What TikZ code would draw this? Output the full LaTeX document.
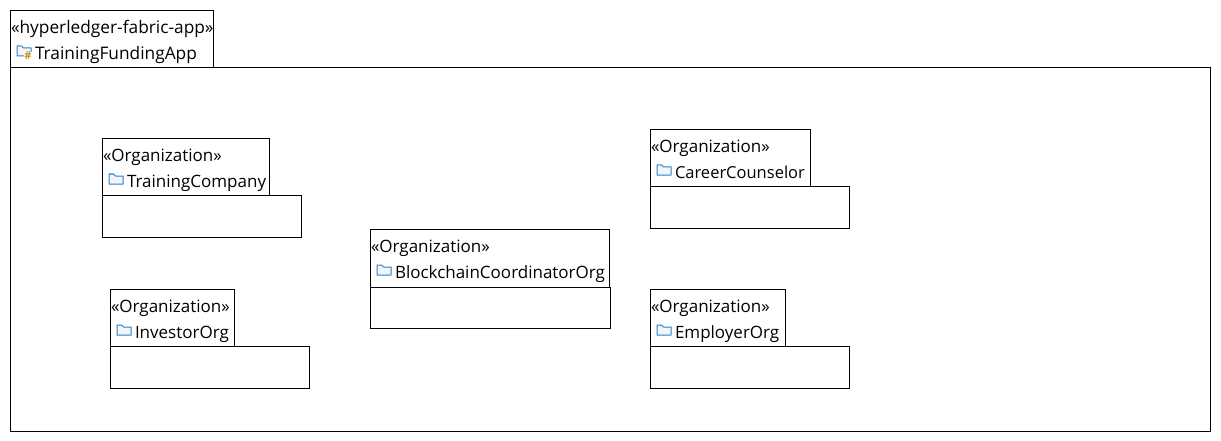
\documentclass[tikz,border=0pt]{standalone}
\usepackage{fontspec}
\setmainfont{Open Sans}
\definecolor{folderblue}{HTML}{2F7FC1}
\definecolor{folderfill}{HTML}{F0F6FC}
\definecolor{hashgold}{HTML}{C8901A}
\newcommand{\appsize}{\fontsize{17.3}{20}\selectfont}
\newcommand{\ccsize}{\fontsize{16.5}{20}\selectfont}
\tikzset{
  pkgbox/.style={draw=black,line width=1pt,fill=white,inner sep=0pt,outer sep=0pt,anchor=north west},
  pkgtext/.style={inner sep=0pt,outer sep=0pt,anchor=base west,text=black,font=\fontsize{17}{20}\selectfont},
  foldericon/.style={draw=folderblue,line width=1pt,fill=folderfill,line join=round},
}
% #1 id, #2 x, #3 y top, #4 tab width, #5 tab height, #6 body width, #7 body height, #8 stereotype, #9 name
\newcommand{\pkgshape}[9]{%
  \node[pkgbox,minimum width=#4pt,minimum height=#5pt] (#1tab) at (#2,#3) {};
  \node[pkgbox,minimum width=#6pt,minimum height=#7pt] (#1body) at (#1tab.south west) {};
  \node[pkgtext] (#1st) at (#2+0.5,#3+23) {#8};
  \node[pkgtext] (#1nm) at (#2+24.5,#3+49) {#9};
  \draw[foldericon] (#2+6.5,#3+45.5) -- (#2+6.5,#3+35.5) -- (#2+11,#3+35.5) -- (#2+13,#3+37.5) -- (#2+20.5,#3+37.5) -- (#2+20.5,#3+45.5) -- cycle;
}
\begin{document}
\begin{tikzpicture}[x=1pt,y=-1pt]
\useasboundingbox (0,0) rectangle (1221,441);
\fill[white] (0,0) rectangle (1221,441);
\pkgshape{app}{10.5}{10.5}{203}{57}{1200}{363.5}{\appsize «hyperledger-fabric-app»}{\appsize TrainingFundingApp}
\node[inner sep=0pt,fill=white,text=hashgold,font=\bfseries\fontsize{11}{11}\selectfont] (apphash) at (28,55.5) {\#};
\pkgshape{tc}{102.5}{138.5}{167}{57}{199}{42}{«Organization»}{TrainingCompany}
\pkgshape{cc}{650.5}{129.5}{160}{57}{199}{42}{«Organization»}{\ccsize CareerCounselor}
\pkgshape{bc}{370.5}{229.5}{239}{57.5}{240}{41.5}{«Organization»}{BlockchainCoordinatorOrg}
\pkgshape{io}{110.5}{289.5}{124}{57}{199}{42}{«Organization»}{InvestorOrg}
\pkgshape{eo}{650.5}{289.5}{135}{57}{199}{42}{«Organization»}{EmployerOrg}
\end{tikzpicture}
\end{document}
